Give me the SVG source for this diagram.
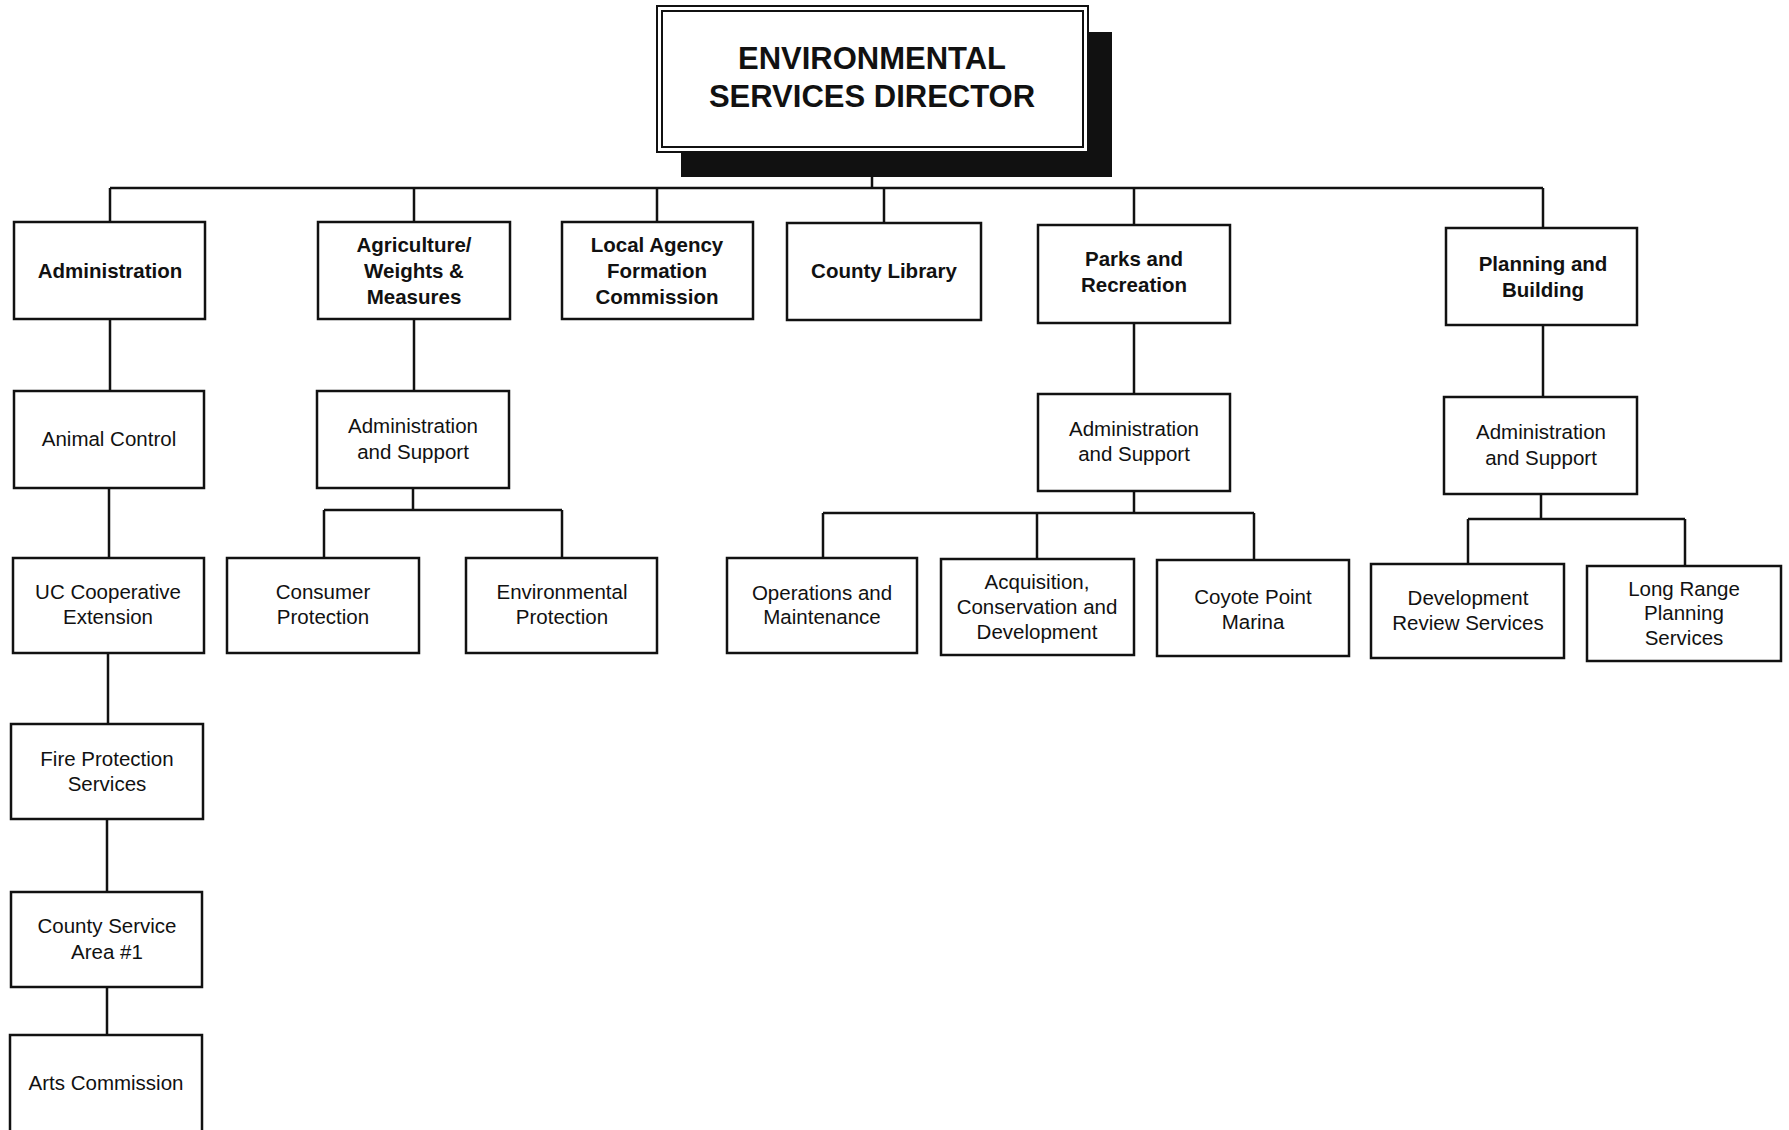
<svg xmlns="http://www.w3.org/2000/svg" width="1789" height="1130" viewBox="0 0 1789 1130">
<style>
.box{fill:#fff;stroke:#111;stroke-width:2.5}
.ln{stroke:#111;stroke-width:2.5;fill:none}
.b{font-family:"Liberation Sans",Arial,sans-serif;font-weight:bold;font-size:20.5px;fill:#111;text-anchor:middle}
.r{font-family:"Liberation Sans",Arial,sans-serif;font-size:20.5px;fill:#111;text-anchor:middle}
.d{font-family:"Liberation Sans",Arial,sans-serif;font-weight:bold;font-size:31px;fill:#111;text-anchor:middle}
</style>
<rect width="1789" height="1130" fill="#fff"/>
<g id="connectors">
<path class="ln" d="M872,177V188M110,188H1543M110,188V222M414,188V222M657,188V222M884,188V223M1134,188V225M1543,188V228"/>
<path class="ln" d="M110,319V391M109,488V558M108,653V724M107,819V892M107,987V1035"/>
<path class="ln" d="M414,319V391M413,488V510M324,510H562M324,510V558M562,510V558"/>
<path class="ln" d="M1134,323V394M1134,491V513M823,513H1254M823,513V558M1037,513V559M1254,513V560"/>
<path class="ln" d="M1543,325V397M1541,494V519M1468,519H1685M1468,519V564M1685,519V566"/>
</g>
<g id="director">
<rect x="681" y="32" width="431" height="145" fill="#111"/>
<rect x="657" y="6" width="431" height="146" fill="#fff" stroke="#111" stroke-width="2"/>
<rect x="662" y="11" width="421" height="136" fill="none" stroke="#111" stroke-width="2"/>
<text class="d" x="872" y="69">ENVIRONMENTAL</text>
<text class="d" x="872" y="107">SERVICES DIRECTOR</text>
</g>
<g id="administration"><rect class="box" x="14" y="222" width="191" height="97"/><text class="b" x="110" y="278">Administration</text></g>
<g id="agriculture"><rect class="box" x="318" y="222" width="192" height="97"/><text class="b" x="414" y="252">Agriculture/</text><text class="b" x="414" y="278">Weights &amp;</text><text class="b" x="414" y="304">Measures</text></g>
<g id="lafco"><rect class="box" x="562" y="222" width="191" height="97"/><text class="b" x="657" y="252">Local Agency</text><text class="b" x="657" y="278">Formation</text><text class="b" x="657" y="304">Commission</text></g>
<g id="library"><rect class="box" x="787" y="223" width="194" height="97"/><text class="b" x="884" y="278">County Library</text></g>
<g id="parks"><rect class="box" x="1038" y="225" width="192" height="98"/><text class="b" x="1134" y="266">Parks and</text><text class="b" x="1134" y="292">Recreation</text></g>
<g id="planning"><rect class="box" x="1446" y="228" width="191" height="97"/><text class="b" x="1543" y="271">Planning and</text><text class="b" x="1543" y="297">Building</text></g>
<g id="animal-control"><rect class="box" x="14" y="391" width="190" height="97"/><text class="r" x="109" y="446">Animal Control</text></g>
<g id="ag-admin"><rect class="box" x="317" y="391" width="192" height="97"/><text class="r" x="413" y="433">Administration</text><text class="r" x="413" y="459">and Support</text></g>
<g id="parks-admin"><rect class="box" x="1038" y="394" width="192" height="97"/><text class="r" x="1134" y="436">Administration</text><text class="r" x="1134" y="461">and Support</text></g>
<g id="planning-admin"><rect class="box" x="1444" y="397" width="193" height="97"/><text class="r" x="1541" y="439">Administration</text><text class="r" x="1541" y="465">and Support</text></g>
<g id="uc-coop"><rect class="box" x="13" y="558" width="191" height="95"/><text class="r" x="108" y="599">UC Cooperative</text><text class="r" x="108" y="624">Extension</text></g>
<g id="consumer"><rect class="box" x="227" y="558" width="192" height="95"/><text class="r" x="323" y="599">Consumer</text><text class="r" x="323" y="624">Protection</text></g>
<g id="env-protection"><rect class="box" x="466" y="558" width="191" height="95"/><text class="r" x="562" y="599">Environmental</text><text class="r" x="562" y="624">Protection</text></g>
<g id="operations"><rect class="box" x="727" y="558" width="190" height="95"/><text class="r" x="822" y="600">Operations and</text><text class="r" x="822" y="624">Maintenance</text></g>
<g id="acquisition"><rect class="box" x="941" y="559" width="193" height="96"/><text class="r" x="1037" y="589">Acquisition,</text><text class="r" x="1037" y="614">Conservation and</text><text class="r" x="1037" y="639">Development</text></g>
<g id="coyote"><rect class="box" x="1157" y="560" width="192" height="96"/><text class="r" x="1253" y="604">Coyote Point</text><text class="r" x="1253" y="629">Marina</text></g>
<g id="dev-review"><rect class="box" x="1371" y="564" width="193" height="94"/><text class="r" x="1468" y="605">Development</text><text class="r" x="1468" y="630">Review Services</text></g>
<g id="long-range"><rect class="box" x="1587" y="566" width="194" height="95"/><text class="r" x="1684" y="596">Long Range</text><text class="r" x="1684" y="620">Planning</text><text class="r" x="1684" y="645">Services</text></g>
<g id="fire"><rect class="box" x="11" y="724" width="192" height="95"/><text class="r" x="107" y="766">Fire Protection</text><text class="r" x="107" y="791">Services</text></g>
<g id="csa1"><rect class="box" x="11" y="892" width="191" height="95"/><text class="r" x="107" y="933">County Service</text><text class="r" x="107" y="959">Area #1</text></g>
<g id="arts"><rect class="box" x="10" y="1035" width="192" height="110"/><text class="r" x="106" y="1090">Arts Commission</text></g>
</svg>
